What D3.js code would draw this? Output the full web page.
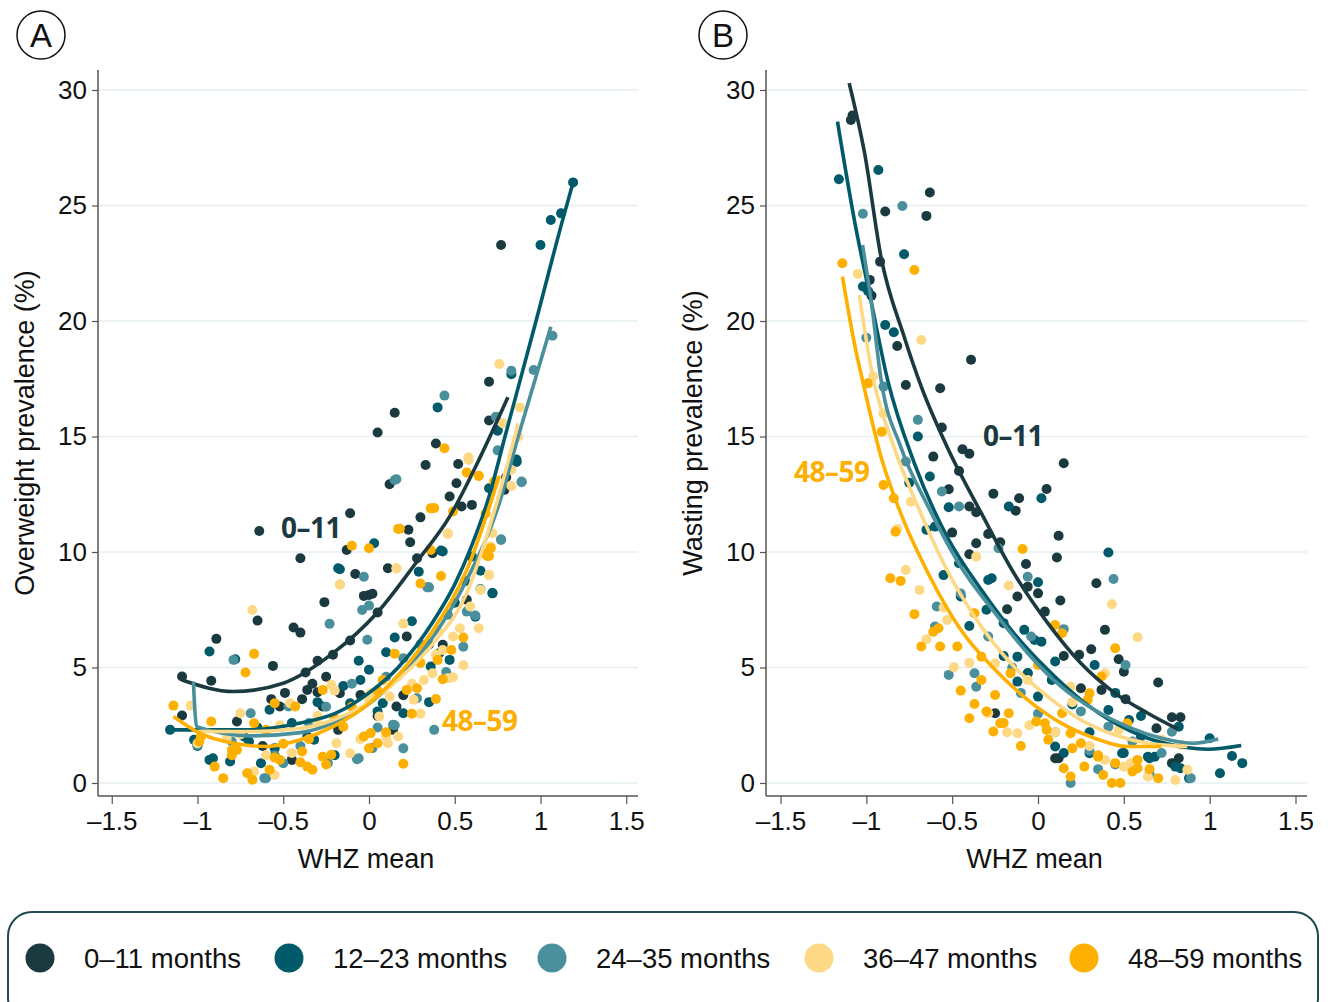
<!DOCTYPE html>
<html>
<head>
<meta charset="utf-8">
<script src="https://cdn.jsdelivr.net/npm/d3@7"></script>
<style>
body { margin: 0; background: #fff; }
text { font-family: "Liberation Sans", Arial, sans-serif; fill: #111; }
</style>
</head>
<body>
<div id="graph"></div>
<script>
// age groups and colours
var ageGroups = ['0–11 months', '12–23 months', '24–35 months', '36–47 months', '48–59 months'];
var groupColors = ['#1a3a3f', '#005a69', '#4a909c', '#fed985', '#fdb000'];
var xTicks = [-1.5, -1, -0.5, 0, 0.5, 1, 1.5];
var xTickLabels = ['–1.5', '–1', '–0.5', '0', '0.5', '1', '1.5'];
var yTicks = [0, 5, 10, 15, 20, 25, 30];

// panel A : overweight prevalence vs WHZ mean  [whz, %]
var ow_0_11 = [[-1.09,4.61],[-0.92,4.43],[-1.09,2.92],[-0.77,2.66],[-0.89,6.24],[-0.65,7.03],[-0.64,10.91],[-0.4,9.73],[-0.44,6.73],[-0.4,6.51],[-0.56,5.07],[-0.26,7.83],[-0.13,10.09],[-0.11,11.68],[-0.08,9.05],[0.05,15.17],[0.15,16.03],[0.0,8.14],[0.11,9.3],[0.12,12.93],[0.23,10.96],[0.24,10.42],[0.3,11.5],[0.28,9.73],[0.37,9.95],[0.33,13.77],[0.39,14.7],[0.47,12.4],[0.51,12.98],[0.52,13.81],[0.54,11.97],[0.6,12.04],[0.7,17.37],[0.7,15.69],[0.77,23.29],[0.8,13.24],[0.79,12.69],[0.86,13.91],[-0.03,8.1],[0.02,8.19],[0.05,7.38],[-0.11,6.17],[-0.3,5.29],[-0.37,4.78],[-0.36,4.03],[-0.39,3.63],[-0.3,3.93],[-0.27,3.31],[-0.21,5.55],[-0.17,3.89],[-0.57,3.63],[-0.52,3.31],[-0.05,3.81],[0.16,3.31],[0.22,6.34],[0.43,5.98],[0.57,7.93],[0.14,2.3],[-0.18,2.3],[-0.49,3.9],[-0.33,4.3],[-0.25,4.6],[-0.62,1.6],[-0.45,1.0],[0.05,2.9],[0.2,3.8]];
var ow_12_23 = [[1.19,26.0],[1.12,24.66],[1.06,24.37],[1.0,23.29],[0.4,16.26],[0.83,17.7],[0.75,15.25],[0.86,14.0],[-0.17,9.25],[0.03,10.38],[0.43,10.02],[0.7,12.76],[0.65,9.19],[0.72,8.21],[0.75,15.28],[0.56,8.74],[-1.16,2.3],[-0.93,5.69],[-0.78,5.36],[-0.18,9.3],[0.1,5.66],[-0.06,5.29],[0.42,10.06],[0.72,8.22],[0.86,13.91],[0.29,9.15],[-0.93,1.0],[-0.81,0.93],[-0.63,0.86],[-0.36,2.01],[-1.0,1.6],[-0.55,1.5],[-0.45,2.6],[-0.3,3.5],[-0.15,4.2],[0.0,4.9],[0.15,6.3],[0.25,7.0],[0.35,6.0],[0.5,7.8],[0.6,9.8],[-0.65,2.4],[-0.2,1.2],[0.05,3.1],[-0.7,1.8],[0.35,3.5],[-0.91,1.07],[-0.32,1.87],[0.08,3.45],[0.2,3.02],[0.36,5.04],[0.41,5.62],[0.47,5.33],[0.62,7.2],[-1.02,1.87],[-0.73,2.01],[-0.58,3.17],[-0.11,3.45],[-0.05,4.46]];
var ow_24_35 = [[0.44,16.77],[0.83,17.85],[1.07,19.36],[0.96,17.88],[0.74,15.86],[0.75,14.4],[0.15,13.12],[0.89,13.05],[0.77,10.52],[-0.03,8.93],[0.35,8.47],[-0.79,5.33],[0.16,13.15],[-0.04,7.49],[-0.23,6.89],[0.0,7.68],[0.34,8.47],[0.46,7.28],[0.57,7.42],[0.62,7.25],[0.77,10.55],[0.89,13.02],[-0.01,6.2],[0.28,3.67],[0.14,2.52],[0.02,1.51],[-0.07,1.03],[-0.61,0.21],[-0.47,3.31],[-0.69,3.02],[-1.0,1.65],[-0.35,2.6],[-0.4,1.6],[-0.25,3.3],[-0.1,4.3],[0.1,4.6],[0.2,5.4],[0.3,6.0],[0.45,4.8],[0.55,5.9],[0.2,1.5],[0.05,2.4],[-0.55,1.2],[-0.8,1.8],[0.38,2.3],[0.65,8.4],[-0.6,0.21],[-0.5,0.86],[-0.24,0.86],[-0.06,1.07],[0.15,2.5]];
var ow_36_47 = [[0.76,18.14],[0.88,16.26],[0.78,15.57],[0.58,14.1],[0.87,15.0],[0.58,13.98],[0.83,12.86],[0.46,10.81],[0.72,10.81],[-0.17,8.6],[0.16,9.29],[0.7,9.0],[0.65,8.36],[-0.68,7.49],[0.46,10.78],[0.7,9.01],[0.64,6.7],[0.46,4.53],[0.49,4.58],[0.16,9.3],[-0.17,8.58],[-1.04,3.35],[0.12,3.74],[-0.11,1.29],[-0.67,0.5],[0.39,5.55],[-0.52,2.5],[-0.3,2.9],[-0.2,4.0],[0.0,3.6],[0.25,4.3],[0.3,3.0],[0.55,5.1],[-0.45,1.3],[-0.75,2.1],[0.1,2.0],[0.4,6.6],[0.2,6.9],[-0.05,1.9],[-0.6,1.2],[-0.75,3.02],[-0.55,0.35],[-0.46,3.45],[-0.3,2.59],[-0.19,1.72],[0.06,2.88],[0.11,1.72],[0.17,2.01],[0.26,3.6],[0.32,4.46],[0.37,4.75],[0.43,5.76],[0.49,6.34],[0.53,6.7],[0.59,7.64],[0.71,10.24],[0.83,13.55],[-1.0,1.72],[-0.83,1.94],[-0.22,4.25],[0.01,3.89]];
var ow_48_59 = [[0.44,14.49],[0.57,13.44],[0.64,13.29],[0.36,11.89],[0.18,11.01],[-0.1,10.27],[0.0,10.16],[0.36,10.09],[0.71,10.16],[0.7,9.83],[0.73,13.05],[0.3,8.64],[0.42,8.96],[0.68,11.67],[-0.67,5.59],[-0.72,4.78],[-1.14,3.35],[-0.92,2.66],[0.38,11.9],[0.17,11.0],[0.48,5.76],[0.43,4.49],[0.39,3.64],[0.2,0.83],[0.69,9.83],[0.49,11.75],[0.64,13.3],[-0.27,4.03],[-0.71,0.42],[-0.85,0.21],[-0.68,0.14],[-0.99,1.8],[-0.55,1.1],[-0.4,0.9],[-0.35,1.9],[-0.2,2.8],[-0.1,3.3],[0.05,4.0],[0.1,2.2],[0.25,3.0],[0.3,5.2],[-0.6,2.3],[-0.5,1.7],[0.0,1.5],[-0.25,0.8],[0.15,5.6],[0.55,6.3],[-0.8,1.2],[-0.9,0.71],[-0.77,1.43],[-0.58,0.57],[-0.52,1.0],[-0.43,3.31],[-0.39,1.36],[-0.36,0.71],[-0.33,0.57],[-0.27,1.14],[-0.22,1.22],[-0.15,2.44],[-0.03,2.01],[0.01,2.16],[0.05,1.72],[0.22,4.03],[0.28,4.1],[0.4,5.33],[0.67,9.95],[-0.98,2.01],[-0.8,1.43],[-0.67,2.59],[-0.55,3.45],[0.08,4.46]];

// fitted curves, panel A
var owFit_0_11 = [[-1.09,4.46],[-0.79,3.96],[-0.5,4.32],[-0.21,5.62],[0.045,7.35],[0.28,9.59],[0.47,11.53],[0.65,14.13],[0.81,16.7]];
var owFit_12_23 = [[-1.18,2.3],[-1.04,2.3],[-0.7,2.3],[-0.4,2.6],[-0.2,3.0],[0.0,3.9],[0.17,5.0],[0.375,7.0],[0.5,8.6],[0.6,10.3],[0.7,12.4],[0.793,15.0],[0.974,20.0],[1.13,24.4],[1.19,26.0]];
var owFit_24_35 = [[-1.024,4.39],[-1.005,2.44],[-0.69,2.04],[-0.4,2.18],[-0.21,2.59],[-0.01,3.38],[0.18,4.61],[0.375,6.34],[0.57,8.79],[0.76,12.11],[0.87,15.0],[1.06,19.75]];
var owFit_36_47 = [[-1.005,2.23],[-0.69,2.23],[-0.4,2.37],[-0.21,2.73],[-0.01,3.45],[0.18,4.54],[0.375,6.05],[0.57,8.22],[0.72,11.5],[0.87,15.57]];
var owFit_48_59 = [[-1.14,2.88],[-0.985,2.15],[-0.79,1.72],[-0.6,1.58],[-0.4,1.87],[-0.21,2.44],[-0.01,3.38],[0.18,4.75],[0.375,6.63],[0.57,9.22],[0.76,13.3]];

// panel B : wasting prevalence vs WHZ mean
var wa_0_11 = [[-1.09,28.7],[-1.08,28.9],[-0.89,24.74],[-0.63,25.56],[-0.65,24.55],[-0.92,22.57],[-0.98,21.78],[-0.97,21.1],[-0.82,18.92],[-0.77,17.23],[-0.57,17.09],[-0.39,18.32],[-0.56,15.39],[-0.61,14.13],[-0.44,14.45],[-0.4,14.25],[0.15,13.84],[-0.46,13.51],[-0.52,12.72],[-0.26,12.52],[-0.11,12.33],[-0.13,11.79],[0.05,12.73],[-0.4,11.97],[-0.36,11.72],[0.12,10.7],[0.11,9.76],[-0.29,10.78],[-0.5,10.84],[-0.36,10.38],[-0.22,10.42],[-0.4,9.9],[-0.07,9.48],[0.34,8.65],[-0.06,8.5],[0.0,8.21],[-0.12,8.07],[0.13,7.9],[0.04,7.42],[-0.18,7.52],[0.39,6.63],[0.31,5.79],[0.24,5.55],[0.15,5.5],[0.47,5.36],[0.5,4.82],[0.7,4.35],[0.25,4.1],[0.37,4.03],[0.51,3.63],[0.78,2.85],[0.83,2.85],[0.82,1.07],[0.8,0.86],[0.1,1.07],[-0.25,3.02],[-0.06,4.75],[0.69,2.37],[0.12,1.07],[0.78,0.86]];
var wa_12_23 = [[-1.16,26.14],[-0.93,26.54],[-0.78,22.89],[-0.89,19.83],[-0.84,19.51],[-1.02,21.49],[-0.99,21.3],[0.41,9.98],[0.02,12.33],[-0.17,11.97],[-0.52,11.94],[-0.63,13.27],[0.0,8.69],[-0.27,8.86],[-0.6,11.1],[-0.65,10.96],[-0.46,9.51],[-0.08,6.63],[0.02,6.12],[0.1,5.26],[-0.06,4.75],[-0.12,4.39],[0.33,5.11],[0.53,2.73],[0.82,2.44],[1.0,1.94],[1.06,0.42],[1.13,1.17],[1.19,0.86],[0.65,1.07],[0.8,0.71],[-0.7,15.0],[-0.75,13.0],[-0.3,7.5],[-0.2,5.5],[0.2,3.4],[0.3,2.2],[0.5,1.3],[0.6,2.9],[0.45,3.9],[-0.4,6.8],[0.15,1.3],[-0.55,9.0],[0.1,1.58],[0.3,1.29],[0.49,1.29],[0.64,1.14],[0.68,1.14],[0.83,0.64],[0.88,0.21],[-0.12,5.47],[0.0,3.74],[0.08,4.46],[0.41,3.16],[0.6,2.01],[-0.45,8.07],[-0.29,8.79],[-0.2,6.92],[-0.02,6.19]];
var wa_24_35 = [[-1.02,24.64],[-0.79,24.98],[-1.0,19.28],[-0.9,17.16],[-0.7,15.72],[-0.77,13.92],[-0.56,12.62],[-0.46,11.97],[0.44,8.83],[0.51,5.11],[-0.06,8.93],[-0.23,10.16],[0.15,6.66],[-0.04,6.34],[-0.52,4.68],[-0.36,4.17],[-0.59,7.64],[-0.6,6.77],[-0.29,6.34],[0.78,2.22],[0.89,0.21],[0.19,0.0],[0.41,2.44],[0.0,3.0],[0.25,3.1],[-0.15,5.0],[0.3,1.4],[0.55,1.8],[0.65,0.4],[0.1,2.2],[-0.45,8.2],[0.45,0.8],[-0.37,4.75],[0.35,0.6],[0.72,1.3],[-0.1,3.9]];
var wa_36_47 = [[-1.05,22.04],[-0.68,19.18],[-0.96,17.6],[-0.36,9.8],[-0.17,8.55],[0.43,7.74],[0.58,6.31],[-0.49,5.01],[-0.74,12.18],[-0.77,9.22],[-0.69,8.36],[-0.65,6.22],[-0.18,2.2],[-0.12,2.15],[0.83,1.65],[0.64,0.28],[0.87,0.57],[0.8,0.13],[0.39,4.75],[-0.9,16.0],[-0.82,11.0],[-0.4,5.2],[-0.05,2.5],[0.1,2.2],[0.3,1.6],[0.5,0.7],[0.2,3.5],[-0.55,7.6],[-0.29,3.02],[0.39,1.0],[0.54,0.86],[-0.25,5.18],[-0.06,4.46],[0.19,4.17],[0.47,2.3],[0.72,1.87],[-0.53,7.06]];
var wa_48_59 = [[-1.14,22.5],[-0.72,22.21],[-0.99,17.3],[-0.91,15.21],[-0.9,12.9],[-0.84,12.33],[-0.83,10.88],[-0.86,8.86],[-0.8,8.75],[-0.72,7.31],[-0.68,5.91],[-0.61,6.55],[-0.58,6.7],[-0.57,5.91],[-0.47,5.91],[-0.4,2.8],[-0.37,3.42],[-0.33,4.46],[-0.26,2.23],[-0.25,3.81],[-0.17,3.02],[-0.09,10.13],[0.0,5.11],[0.1,6.84],[0.3,3.88],[0.45,5.83],[0.37,4.61],[-0.01,2.66],[0.06,1.87],[0.15,0.64],[0.19,0.28],[0.27,0.71],[0.43,0.0],[0.48,0.0],[0.38,0.35],[0.7,0.21],[0.58,1.0],[-0.3,3.1],[-0.2,2.6],[0.05,2.3],[0.2,1.5],[0.35,1.2],[0.55,0.5],[-0.1,1.6],[-0.45,4.0],[0.65,0.6],[-0.22,2.59],[0.04,2.59],[0.14,3.02],[0.19,2.15],[0.25,1.72],[0.35,1.14],[0.45,0.86],[0.58,0.64],[-0.33,5.47],[-0.16,4.75],[0.29,3.6],[0.52,2.59],[-0.37,7.35],[0.14,6.48]];

// fitted curves, panel B
var waFit_0_11 = [[-1.1,30.3],[-1.01,27.26],[-0.915,22.79],[-0.78,19.33],[-0.68,17.16],[-0.53,14.56],[-0.33,11.68],[-0.14,9.08],[0.057,6.92],[0.25,5.18],[0.45,3.88],[0.64,3.02],[0.815,2.33]];
var waFit_12_23 = [[-1.168,28.63],[-1.07,24.38],[-0.97,20.77],[-0.876,17.45],[-0.72,13.84],[-0.53,10.67],[-0.33,8.36],[-0.14,6.48],[0.057,4.9],[0.25,3.6],[0.45,2.59],[0.64,1.94],[0.83,1.58],[0.99,1.46],[1.184,1.62]];
var waFit_24_35 = [[-1.022,23.29],[-0.97,20.77],[-0.915,17.5],[-0.8,14.56],[-0.64,11.97],[-0.45,9.37],[-0.25,7.35],[-0.06,5.62],[0.135,4.17],[0.33,3.16],[0.52,2.44],[0.72,1.94],[0.91,1.72],[1.05,1.9]];
var waFit_36_47 = [[-1.041,21.13],[-0.97,17.88],[-0.84,14.56],[-0.7,11.97],[-0.53,9.22],[-0.33,6.77],[-0.14,5.04],[0.057,3.74],[0.25,2.73],[0.45,2.08],[0.64,1.72],[0.87,1.58]];
var waFit_48_59 = [[-1.139,21.92],[-1.07,19.04],[-1.012,17.1],[-0.915,14.13],[-0.8,11.68],[-0.64,9.08],[-0.45,6.63],[-0.25,4.9],[-0.06,3.6],[0.135,2.59],[0.33,1.94],[0.52,1.58],[0.72,1.58]];

var owPoints = [ow_0_11, ow_12_23, ow_24_35, ow_36_47, ow_48_59];
var owFits = [owFit_0_11, owFit_12_23, owFit_24_35, owFit_36_47, owFit_48_59];
var waPoints = [wa_0_11, wa_12_23, wa_24_35, wa_36_47, wa_48_59];
var waFits = [waFit_0_11, waFit_12_23, waFit_24_35, waFit_36_47, waFit_48_59];

var svg = d3.select('#graph').append('svg')
    .attr('width', 1331)
    .attr('height', 1002);

drawPanel = function (p) {
    var g = svg.append('g');
    var x = d3.scaleLinear().domain([-1.5, 1.5]).range([p.x0, p.x1]);
    var y = d3.scaleLinear().domain([0, 30]).range([783, 90]);

    // grid lines
    g.selectAll('.grid').data(yTicks).enter().append('line')
        .attr('x1', p.left).attr('x2', p.right)
        .attr('y1', function (d) { return y(d); })
        .attr('y2', function (d) { return y(d); })
        .attr('stroke', '#e5eff2').attr('stroke-width', 1.5);

    // y axis
    var yAxis = d3.axisLeft(y).tickValues(yTicks).tickSize(6).tickPadding(5);
    var ya = g.append('g').attr('transform', 'translate(' + p.left + ',0)').call(yAxis);
    ya.select('.domain').attr('d', 'M0,70V796').attr('stroke', '#555').attr('stroke-width', 1.5);
    ya.selectAll('.tick line').attr('stroke', '#555').attr('stroke-width', 1.2);
    ya.selectAll('.tick text').attr('font-size', 26).attr('fill', '#111')
        .style('font-family', '"Liberation Sans", Arial, sans-serif');

    // x axis
    var xAxis = d3.axisBottom(x).tickValues(xTicks).tickSize(8).tickPadding(8)
        .tickFormat(function (d, i) { return xTickLabels[i]; });
    var xa = g.append('g').attr('transform', 'translate(0,796)').call(xAxis);
    xa.select('.domain').attr('d', 'M' + p.left + ',0H' + p.right).attr('stroke', '#555').attr('stroke-width', 1.5);
    xa.selectAll('.tick line').attr('stroke', '#555').attr('stroke-width', 1.2);
    xa.selectAll('.tick text').attr('font-size', 26).attr('fill', '#111')
        .style('font-family', '"Liberation Sans", Arial, sans-serif');

    g.append('text').attr('x', (p.left + p.right) / 2 - 2).attr('y', 868)
        .attr('text-anchor', 'middle').attr('font-size', 27).text('WHZ mean');
    g.append('text')
        .attr('transform', 'translate(' + p.titleX + ',433) rotate(-90)')
        .attr('text-anchor', 'middle').attr('font-size', 27).text(p.title);

    // points, youngest first
    p.points.forEach(function (pts, i) {
        g.append('g').selectAll('circle').data(pts).enter().append('circle')
            .attr('cx', function (d) { return x(d[0]); })
            .attr('cy', function (d) { return y(d[1]); })
            .attr('r', 5)
            .attr('fill', groupColors[i]);
    });

    var line = d3.line()
        .x(function (d) { return x(d[0]); })
        .y(function (d) { return y(d[1]); })
        .curve(d3.curveMonotoneX);

    p.fits.forEach(function (f, i) {
        g.append('path').datum(f)
            .attr('d', line)
            .attr('fill', 'none')
            .attr('stroke', groupColors[i])
            .attr('stroke-width', 3.6);
    });

    // group labels on the plot
    p.labels.forEach(function (l) {
        g.append('text').attr('x', l.x).attr('y', l.y)
            .attr('font-size', 28).attr('font-weight', 700)
            .style('font-family', '"Open Sans", sans-serif')
            .attr('letter-spacing', -0.5)
            .style('fill', groupColors[l.group])
            .text(l.text);
    });

    // panel letter
    g.append('circle').attr('cx', p.badgeX).attr('cy', 35).attr('r', 24)
        .attr('fill', 'none').attr('stroke', '#111').attr('stroke-width', 1.5);
    g.append('text').attr('x', p.badgeX).attr('y', 47).attr('text-anchor', 'middle')
        .attr('font-size', 33).text(p.letter);
};

drawPanel({
    letter: 'A', badgeX: 41, left: 98, right: 638, x0: 111.75, x1: 626.25,
    title: 'Overweight prevalence (%)', titleX: 34,
    points: owPoints, fits: owFits,
    labels: [{text: '0–11', x: 281, y: 538, group: 0}, {text: '48–59', x: 442, y: 731, group: 4}]
});

drawPanel({
    letter: 'B', badgeX: 723, left: 766, right: 1307, x0: 780.5, x1: 1295.5,
    title: 'Wasting prevalence (%)', titleX: 702,
    points: waPoints, fits: waFits,
    labels: [{text: '0–11', x: 983, y: 446, group: 0}, {text: '48–59', x: 794, y: 482, group: 4}]
});

// legend
var legend = svg.append('g');
legend.append('rect')
    .attr('x', 8).attr('y', 912).attr('width', 1310).attr('height', 110).attr('rx', 24)
    .attr('fill', 'none').attr('stroke', '#1f4a52').attr('stroke-width', 2);

var legendX = [40, 289, 552, 819, 1084];
ageGroups.forEach(function (name, i) {
    legend.append('circle').attr('cx', legendX[i]).attr('cy', 958).attr('r', 14.5)
        .attr('fill', groupColors[i]);
    legend.append('text').attr('x', legendX[i] + 44).attr('y', 968)
        .attr('font-size', 27.5).text(name);
});
</script>
</body>
</html>
